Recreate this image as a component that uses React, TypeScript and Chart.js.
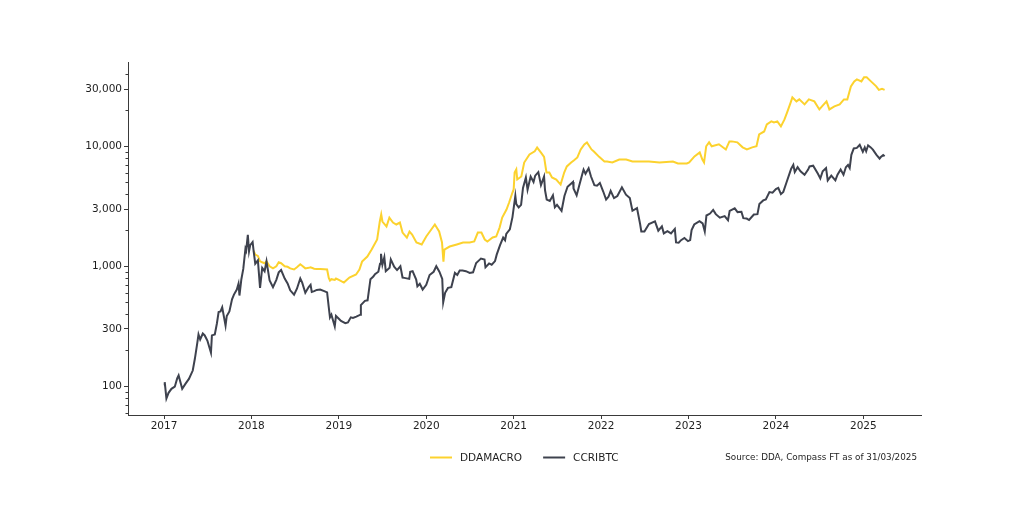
import React, { useEffect, useRef } from "react";
import { Chart, registerables } from "chart.js";

Chart.register(...registerables);

// ---------------- data ----------------
const ccriDates = [
  "2017-01-01","2017-01-04","2017-01-11","2017-01-20","2017-02-01","2017-02-15","2017-02-25","2017-03-03","2017-03-18","2017-04-01",
  "2017-04-15","2017-05-01","2017-05-10","2017-05-20","2017-05-25","2017-06-01","2017-06-12","2017-06-20","2017-07-01","2017-07-16",
  "2017-07-20","2017-08-01","2017-08-10","2017-08-17","2017-08-25","2017-09-01","2017-09-15","2017-09-20","2017-10-01","2017-10-12",
  "2017-10-20","2017-11-01","2017-11-08","2017-11-12","2017-11-20","2017-11-28","2017-12-07","2017-12-10","2017-12-17","2017-12-22",
  "2017-12-27",
  "2018-01-06","2018-01-10","2018-01-17","2018-01-28","2018-02-06","2018-02-15","2018-02-25","2018-03-05","2018-03-18","2018-04-01",
  "2018-04-15","2018-04-25","2018-05-05","2018-05-20","2018-06-01","2018-06-12","2018-06-28","2018-07-10","2018-07-24","2018-08-01",
  "2018-08-14","2018-08-28","2018-09-05","2018-09-10","2018-09-20","2018-10-01","2018-10-15","2018-11-01","2018-11-13","2018-11-20",
  "2018-11-25","2018-12-01","2018-12-15","2018-12-20",
  "2019-01-01","2019-01-10","2019-01-28","2019-02-08","2019-02-20","2019-03-01","2019-03-15","2019-04-01","2019-04-03","2019-04-20",
  "2019-05-01","2019-05-13","2019-05-25","2019-06-01","2019-06-15","2019-06-22","2019-06-26","2019-07-02","2019-07-10","2019-07-16",
  "2019-08-01","2019-08-06","2019-08-20","2019-09-01","2019-09-15","2019-09-24","2019-10-01","2019-10-22","2019-10-26","2019-11-05",
  "2019-11-20","2019-11-25","2019-12-05","2019-12-17",
  "2020-01-01","2020-01-15","2020-02-01","2020-02-12","2020-02-25","2020-03-08","2020-03-12","2020-03-20","2020-04-01","2020-04-15",
  "2020-04-30","2020-05-10","2020-05-20","2020-06-01","2020-06-15","2020-07-01","2020-07-15","2020-07-28","2020-08-10","2020-08-17",
  "2020-09-01","2020-09-05","2020-09-20","2020-10-01","2020-10-15","2020-10-22","2020-11-05","2020-11-18","2020-11-26","2020-12-01",
  "2020-12-16","2020-12-27",
  "2021-01-08","2021-01-12","2021-01-22","2021-02-01","2021-02-09","2021-02-21","2021-02-28","2021-03-13","2021-03-25","2021-04-01",
  "2021-04-14","2021-04-25","2021-05-08","2021-05-12","2021-05-19","2021-06-01","2021-06-14","2021-06-22","2021-07-01","2021-07-20",
  "2021-08-01","2021-08-14","2021-09-06","2021-09-08","2021-09-21","2021-10-01","2021-10-15","2021-10-20","2021-10-28","2021-11-10",
  "2021-11-20","2021-12-04","2021-12-15","2021-12-27",
  "2022-01-10","2022-01-22","2022-02-01","2022-02-10","2022-02-24","2022-03-10","2022-03-29","2022-04-15","2022-05-01","2022-05-12",
  "2022-05-31","2022-06-13","2022-06-18","2022-07-01","2022-07-20","2022-08-14","2022-08-28","2022-09-12","2022-09-20","2022-10-05",
  "2022-10-20","2022-11-05","2022-11-10","2022-11-21","2022-12-01","2022-12-15","2022-12-30",
  "2023-01-08","2023-01-14","2023-01-25","2023-02-16","2023-03-01","2023-03-10","2023-03-17","2023-04-01","2023-04-14","2023-04-25",
  "2023-05-12","2023-06-01","2023-06-15","2023-06-22","2023-07-13","2023-07-25","2023-08-10","2023-08-18","2023-09-01","2023-09-11",
  "2023-10-01","2023-10-16","2023-10-24","2023-11-09","2023-11-20","2023-12-05","2023-12-18",
  "2024-01-01","2024-01-11","2024-01-22","2024-02-01","2024-02-15","2024-02-28","2024-03-05","2024-03-14","2024-03-20","2024-04-01",
  "2024-04-13","2024-04-30","2024-05-15","2024-05-21","2024-06-05","2024-06-25","2024-07-05","2024-07-15","2024-07-29","2024-08-05",
  "2024-08-20","2024-09-06","2024-09-15","2024-09-28","2024-10-10","2024-10-20","2024-10-29","2024-11-05","2024-11-12","2024-11-22",
  "2024-12-05","2024-12-17","2024-12-30",
  "2025-01-07","2025-01-13","2025-01-21","2025-02-01","2025-02-10","2025-02-25","2025-03-10","2025-03-14","2025-03-25","2025-03-31",
];
const ccriValues = [
  102,108,79,88,95,99,116,123,95,105,
  115,135,170,230,270,245,275,265,240,190,
  265,270,335,415,420,455,320,385,420,530,
  580,640,715,570,780,950,1400,1350,1830,1330,
  1500,
  1590,1350,1050,1120,660,970,910,1100,760,670,
  770,890,930,790,720,630,580,650,790,730,
  600,670,700,610,620,635,640,620,605,455,
  375,395,315,385,
  365,350,335,340,375,370,380,395,475,515,
  520,780,820,860,900,1050,1270,1030,1190,910,
  970,1140,990,930,1000,805,800,785,900,910,
  775,680,715,640,
  700,845,900,1000,900,785,500,600,660,670,
  880,845,920,920,910,880,890,1065,1125,1160,
  1140,980,1055,1030,1105,1250,1500,1735,1650,1860,
  2030,2570,
  3870,3300,3100,3250,4500,5500,4350,5600,5050,5700,
  6100,4750,5600,4300,3600,3500,3900,3100,3250,2900,
  3850,4600,5050,4450,3900,4650,5900,6400,5900,6550,
  5600,4750,4700,4950,
  4200,3600,3800,4250,3700,3850,4550,3950,3700,2900,
  3050,2250,1950,1950,2250,2370,1980,2150,1880,1960,
  1880,2050,1580,1570,1650,1720,1620,
  1650,2000,2230,2380,2280,1950,2650,2750,2950,2720,
  2540,2620,2420,2900,3040,2830,2850,2520,2500,2430,
  2700,2720,3300,3540,3600,4150,4100,
  4400,4500,4000,4170,5040,6000,6500,7000,6100,6700,
  6200,5800,6400,6800,6900,5900,5400,6200,6600,5200,
  5700,5200,5800,6400,5800,6700,7000,6600,8500,9600,
  9700,10300,9000,
  9800,9100,10200,9800,9400,8500,7900,8100,8450,8250,
];

const ddaDates = [
  "2018-01-10","2018-01-17","2018-01-28","2018-02-06","2018-02-15","2018-02-25","2018-03-05","2018-03-18","2018-04-01","2018-04-15",
  "2018-04-25","2018-05-05","2018-05-20","2018-06-01","2018-06-12","2018-06-28","2018-07-10","2018-07-24","2018-08-01","2018-08-14",
  "2018-08-28","2018-09-05","2018-09-20","2018-10-01","2018-10-15","2018-11-01","2018-11-13","2018-11-20","2018-11-25","2018-12-01",
  "2018-12-15","2018-12-20",
  "2019-01-01","2019-01-22","2019-02-14","2019-03-14","2019-03-28","2019-04-08","2019-04-30","2019-05-18","2019-06-10","2019-06-21",
  "2019-06-27","2019-07-02","2019-07-19","2019-07-31","2019-08-15","2019-08-29","2019-09-13","2019-09-24","2019-10-12","2019-10-23",
  "2019-11-03","2019-11-21","2019-12-13",
  "2020-01-01","2020-01-22","2020-02-06","2020-02-24","2020-03-07","2020-03-13","2020-03-17","2020-04-08","2020-05-08","2020-06-03",
  "2020-07-01","2020-07-20","2020-08-04","2020-08-19","2020-09-02","2020-09-13","2020-10-05","2020-10-20","2020-11-03","2020-11-14",
  "2020-12-02","2020-12-13","2020-12-27",
  "2021-01-01","2021-01-05","2021-01-12","2021-01-16","2021-02-02","2021-02-14","2021-03-08","2021-03-30","2021-04-09","2021-04-26",
  "2021-05-08","2021-05-18","2021-05-30","2021-06-10","2021-06-28","2021-07-08","2021-07-16","2021-07-31","2021-08-11","2021-08-29",
  "2021-09-09","2021-09-24","2021-10-08","2021-10-23","2021-11-03","2021-11-22","2021-12-02","2021-12-24",
  "2022-01-15","2022-01-26","2022-02-17","2022-03-18","2022-04-16","2022-05-12","2022-06-10","2022-07-20","2022-09-02","2022-10-28",
  "2022-11-18","2022-12-25",
  "2023-01-04","2023-01-26","2023-02-17","2023-02-28","2023-03-07","2023-03-16","2023-03-28","2023-04-08","2023-05-08","2023-06-06",
  "2023-06-21","2023-07-01","2023-07-24","2023-08-15","2023-09-02","2023-09-24","2023-10-12","2023-10-23","2023-11-13","2023-11-24",
  "2023-12-13","2023-12-24",
  "2024-01-07","2024-01-22","2024-02-06","2024-02-17","2024-03-03","2024-03-10","2024-03-27","2024-04-08","2024-04-30","2024-05-18",
  "2024-06-10","2024-07-01","2024-07-12","2024-07-31","2024-08-12","2024-09-02","2024-09-24","2024-10-12","2024-10-26","2024-11-10",
  "2024-11-24","2024-12-05","2024-12-24",
  "2025-01-04","2025-01-15","2025-02-02","2025-02-24","2025-03-07","2025-03-20","2025-03-31",
];
const ddaValues = [
  1350,1250,1220,1100,1080,1060,1100,1000,960,1000,
  1080,1060,1000,990,960,940,980,1040,1010,960,
  970,980,955,950,950,945,940,800,760,780,
  770,790,
  770,731,806,853,938,1094,1205,1379,1672,2360,
  2700,2360,2145,2545,2315,2230,2315,1910,1736,1950,
  1840,1578,1520,
  1770,2025,2230,1950,1578,1094,1379,1460,1520,1578,
  1578,1610,1910,1910,1672,1610,1736,1770,2100,2545,
  2970,3400,4120,
  4370,6050,6430,5290,5610,7330,8560,9100,9770,8830,
  8170,6050,6050,5500,5290,5000,4810,6050,6800,7330,
  7620,8080,9420,10370,10780,9420,9060,8170,
  7480,7480,7340,7770,7770,7480,7480,7480,7340,7480,
  7200,7200,
  7340,8240,8890,7770,7340,10010,10800,10010,10400,9420,
  11000,11000,10800,9810,9420,9810,10010,12570,13300,15230,
  16140,15800,
  16140,14660,16770,19190,23250,25590,23700,24630,22370,24630,
  23700,20320,21540,23700,20320,21540,22370,24630,24630,31630,
  34800,36200,34800,
  37600,37600,34800,31630,29570,30150,29570,
];

const xTickYears = [2017, 2018, 2019, 2020, 2021, 2022, 2023, 2024, 2025];
const yMajorTicks = [100, 300, 1000, 3000, 10000, 30000];
const yMinorTicks = [
  60, 70, 80, 90, 200, 400, 500, 600, 700, 800, 900,
  2000, 4000, 5000, 6000, 7000, 8000, 9000,
  20000, 40000,
];
const seriesLabels = ["DDAMACRO", "CCRIBTC"];
const sourceText = "Source: DDA, Compass FT as of 31/03/2025";

// ---------------- helpers ----------------
function toYear(s: string): number {
  const [y, m, d] = s.split("-").map(Number);
  const start = Date.UTC(y, 0, 1);
  const end = Date.UTC(y + 1, 0, 1);
  return y + (Date.UTC(y, m - 1, d) - start) / (end - start);
}

const YELLOW = "#FCD22E";
const GRAY = "#3E424E";
const AXIS = "#3a3a3a";
const TEXT = "#1e1e1e";
const FONT = '"DejaVu Sans", "Liberation Sans", sans-serif';

const overlayPlugin = {
  id: "overlayPlugin",
  afterDraw(chart: any) {
    const ctx: CanvasRenderingContext2D = chart.ctx;
    const yScale = chart.scales.y;
    const area = chart.chartArea;
    ctx.save();
    // minor log ticks on the y axis
    ctx.strokeStyle = AXIS;
    ctx.lineWidth = 1;
    yMinorTicks.forEach((v) => {
      if (v < yScale.min || v > yScale.max) return;
      const py = Math.round(yScale.getPixelForValue(v)) + 0.5;
      ctx.beginPath();
      ctx.moveTo(area.left, py);
      ctx.lineTo(area.left - 2.5, py);
      ctx.stroke();
    });

    // legend
    const ly = 457.5;
    let x = 430;
    ctx.font = `10.5px ${FONT}`;
    ctx.textBaseline = "middle";
    ctx.textAlign = "left";
    [0, 1].forEach((i) => {
      const ds = chart.data.datasets[i];
      ctx.strokeStyle = ds.borderColor;
      ctx.lineWidth = 2;
      ctx.beginPath();
      ctx.moveTo(x, ly);
      ctx.lineTo(x + 22, ly);
      ctx.stroke();
      x += 30;
      ctx.fillStyle = TEXT;
      ctx.fillText(ds.label, x, ly + 0.5);
      x += ctx.measureText(ds.label).width + 21;
    });

    // source note
    ctx.font = `8.8px ${FONT}`;
    ctx.textAlign = "right";
    ctx.fillStyle = TEXT;
    ctx.fillText(sourceText, 917, 458);
    ctx.restore();
  },
};

export default function App() {
  const canvasRef = useRef<HTMLCanvasElement | null>(null);

  useEffect(() => {
    if (!canvasRef.current) return;
    Chart.defaults.font.family = FONT;
    const ddaData = ddaDates.map((d, i) => ({ x: toYear(d), y: ddaValues[i] }));
    const ccriData = ccriDates.map((d, i) => ({ x: toYear(d), y: ccriValues[i] }));

    const chart = new Chart(canvasRef.current, {
      type: "line",
      data: {
        datasets: [
          {
            label: seriesLabels[0],
            data: ddaData,
            borderColor: YELLOW,
            backgroundColor: YELLOW,
            borderWidth: 2,
            pointRadius: 0,
            tension: 0,
            order: 1,
          },
          {
            label: seriesLabels[1],
            data: ccriData,
            borderColor: GRAY,
            backgroundColor: GRAY,
            borderWidth: 2,
            pointRadius: 0,
            tension: 0,
            order: 0,
          },
        ],
      },
      options: {
        responsive: false,
        animation: false,
        devicePixelRatio: 1,
        layout: { padding: { top: 62, right: 103, left: 0, bottom: 0 } },
        plugins: {
          legend: { display: false },
          tooltip: { enabled: false },
        },
        scales: {
          x: {
            type: "linear",
            min: 2016.588,
            max: 2025.66,
            afterBuildTicks: (scale: any) => {
              scale.ticks = xTickYears.map((v) => ({ value: v }));
            },
            afterFit: (scale: any) => {
              scale.height = 97;
            },
            ticks: {
              autoSkip: false,
              maxRotation: 0,
              padding: 1,
              color: TEXT,
              font: { size: 10.5 },
              callback: (v: any) => String(v),
            },
            grid: { drawOnChartArea: false, drawTicks: true, tickLength: 4, tickColor: AXIS },
            border: { display: true, color: AXIS, width: 1 },
          },
          y: {
            type: "logarithmic",
            min: 57.5,
            max: 50500,
            afterBuildTicks: (scale: any) => {
              scale.ticks = yMajorTicks.map((v) => ({ value: v, major: true }));
            },
            afterFit: (scale: any) => {
              scale.width = 128;
            },
            ticks: {
              autoSkip: false,
              padding: 2,
              color: TEXT,
              font: { size: 10.5 },
              callback: (v: any) => Number(v).toLocaleString("en-US"),
            },
            grid: { drawOnChartArea: false, drawTicks: true, tickLength: 4, tickColor: AXIS },
            border: { display: true, color: AXIS, width: 1 },
          },
        },
      },
      plugins: [overlayPlugin],
    });
    return () => chart.destroy();
  }, []);

  return (
    <div style={{ position: "absolute", left: 0, top: 0, width: 1024, height: 512, background: "#fff" }}>
      <canvas ref={canvasRef} width={1024} height={512} style={{ display: "block", width: 1024, height: 512 }} />
    </div>
  );
}
